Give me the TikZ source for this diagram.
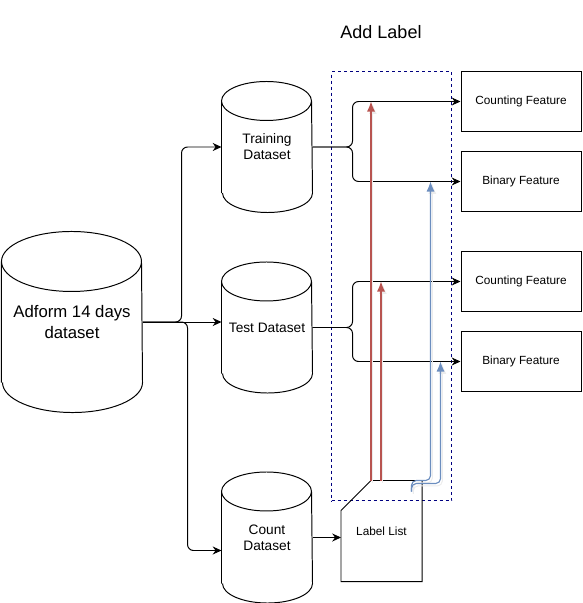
\documentclass[tikz,border=0pt]{standalone}
\usepackage{fontspec}
\setmainfont{Liberation Sans}
\usetikzlibrary{calc}
\usetikzlibrary{math}
\usetikzlibrary{arrows.meta}

\begin{document}
\begin{tikzpicture}[x=0.025cm, y=-0.025cm, line width=0.7pt,
    dbcyl/.style={inner sep=0pt, align=center},
    feat/.style={draw, minimum width=3cm, minimum height=1.5cm, inner sep=0pt, font=\fontsize{8.4}{10}\selectfont},
    conn/.style={-{Stealth[length=0.22cm, width=0.2cm]}, rounded corners=0.15cm},
    lbltip/.style={-{Latex[length=0.25cm, width=0.2cm]}, rounded corners=0.12cm},
    shadowed/.style={draw=gray!15, transform canvas={xshift=0.045cm, yshift=-0.06cm}},
    redline/.style={draw=drawRed, line width=0.8pt},
    blueline/.style={draw=drawBlue, line width=0.8pt}]
    \definecolor{drawRed}{HTML}{B85450}
    \definecolor{drawBlue}{HTML}{6C8EBF}
    \definecolor{boxNavy}{HTML}{000080}

    \useasboundingbox (0,0) rectangle (583,603);

    % datasets
    \node[dbcyl, minimum width=3.5cm, minimum height=4.5cm, font=\fontsize{11.9}{15}\selectfont] (big) at (72,322) {Adform 14 days\\dataset};
    \node[dbcyl, minimum width=2.25cm, minimum height=3.25cm, font=\fontsize{9.75}{11.4}\selectfont] (train) at (267,147) {Training\\Dataset};
    \node[dbcyl, minimum width=2.25cm, minimum height=3.25cm, font=\fontsize{9.75}{11.4}\selectfont] (test) at (267,327.5) {Test Dataset};
    \node[dbcyl, minimum width=2.25cm, minimum height=3.25cm, font=\fontsize{9.75}{11.4}\selectfont] (count) at (267,537.5) {Count\\Dataset};

    \foreach \n/\rx/\ry in {big/70/30, train/45/19.5, test/45/19.5, count/45/19.5}
    {
        \draw ($(\n.south west)+(0,-\ry)$) -- ($(\n.north west)+(0,\ry)$)
            arc[start angle=180, end angle=0, x radius=\rx*0.025cm, y radius=\ry*0.025cm]
            -- ($(\n.south east)+(0,-\ry)$)
            arc[start angle=0, end angle=-180, x radius=\rx*0.025cm, y radius=\ry*0.025cm];
        \draw ($(\n.north west)+(0,\ry)$) arc[start angle=180, end angle=360, x radius=\rx*0.025cm, y radius=\ry*0.025cm];
    }

    % add label box
    \node[draw=boxNavy, dashed, dash pattern=on 0.075cm off 0.075cm, minimum width=3cm, minimum height=10.725cm, inner sep=0pt] (addbox) at (391.7,286.2) {};
    \node[font=\fontsize{12.8}{15}\selectfont] (addtitle) at (381,32) {Add Label};

    % features
    \node[feat] (cnt1) at (521,101.5) {Counting Feature};
    \node[feat] (bin1) at (521,181.5) {Binary Feature};
    \node[feat] (cnt2) at (521,281.5) {Counting Feature};
    \node[feat] (bin2) at (521,361.5) {Binary Feature};

    % label list
    \node[minimum width=2cm, minimum height=2.5cm, inner sep=0pt, font=\fontsize{8.4}{10}\selectfont] (lbl) at (381.5,531) {Label List};
    \coordinate (lblR1) at ($(lbl.north west)+(30,0)$);
    \coordinate (lblR2) at ($(lbl.north west)+(40,0)$);
    \coordinate (lblB) at ($(lbl.north west)+(70.5,11)$);
    \coordinate (lblB1) at ($(lbl.north west)+(89.5,0)$);
    \coordinate (lblB2) at ($(lbl.north west)+(99.5,3)$);
    \draw (lbl.south west) -- ($(lbl.north west)+(0,30)$) -- (lblR1) -- (lbl.north east) -- (lbl.south east) -- cycle;

    % splitting the data
    \draw[conn] (big.east) -- ++(39,0) |- (train.west);
    \draw[conn] (big.east) -- (big.east -| test.west);
    \draw[conn] (big.east) -- ++(45,0) |- ($(count.west)+(0,13)$);
    \draw[conn] (count.east) -- (count.east -| lbl.west);

    \draw[conn] (train.east) -- ++(40,0) |- (cnt1.west);
    \draw[conn] (train.east) -- ++(40,0) |- (bin1.west);
    \draw[conn] (test.east) -- ++(40,0) |- (cnt2.west);
    \draw[conn] (test.east) -- ++(40,0) |- (bin2.west);

    % labels into the features
    \foreach \s in {shadowed, redline}
    {
        \draw[lbltip, \s] (lblR1) -- (lblR1 |- cnt1.west);
        \draw[lbltip, \s] (lblR2) -- (lblR2 |- cnt2.west);
    }
    \foreach \s in {shadowed, blueline}
    {
        \draw[lbltip, \s] (lblB) |- (lblB1) -- (lblB1 |- bin1.west);
        \draw[lbltip, \s] (lblB) |- (lblB2) -- (lblB2 |- bin2.west);
    }

\end{tikzpicture}
\end{document}
